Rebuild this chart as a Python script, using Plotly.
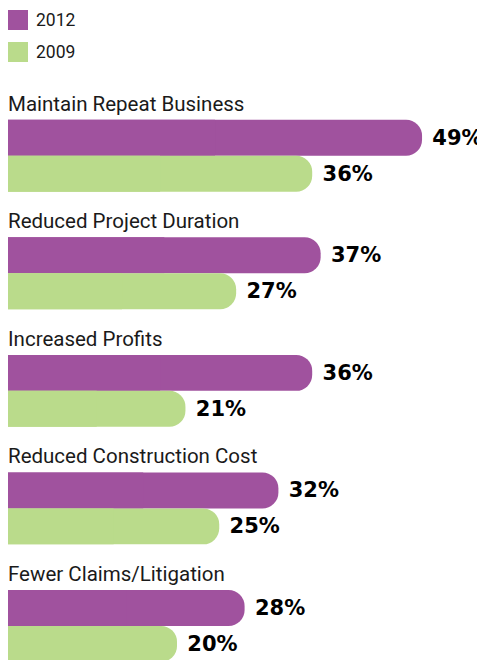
import plotly.graph_objects as go

categories = ['Maintain Repeat Business', 'Reduced Project Duration', 'Increased Profits',
              'Reduced Construction Cost', 'Fewer Claims/Litigation']
series_names = ['2012', '2009']
values_2012 = [49, 37, 36, 32, 28]
values_2009 = [36, 27, 21, 25, 20]
colors = ['#A0529E', '#BADB8B']

label_font = 'Roboto, Liberation Sans, sans-serif'
value_font = 'DejaVu Sans, Arial Black, sans-serif'

bar_w = 0.306
offsets = [-bar_w, 0]

fig = go.Figure()
for name, vals, color, off in zip(series_names, [values_2012, values_2009], colors, offsets):
    # full bar with rounded corners
    fig.add_trace(go.Bar(
        y=categories, x=vals, orientation='h', name=name,
        width=bar_w, offset=off,
        marker=dict(color=color, cornerradius=16, line=dict(width=0)),
        text=vals, texttemplate='\u00a0%{x}%', textposition='outside',
        textfont=dict(family=value_font, size=21, color='#000', weight='bold'),
        constraintext='none', cliponaxis=False, showlegend=False,
        hoverinfo='skip',
    ))
    # square off the left end
    fig.add_trace(go.Bar(
        y=categories, x=[v / 2 for v in vals], orientation='h',
        width=bar_w, offset=off,
        marker=dict(color=color, line=dict(width=0)),
        showlegend=False, hoverinfo='skip',
    ))

# category labels above each pair of bars
for cat in categories:
    fig.add_annotation(x=0, xref='paper', y=cat, yref='y', text=cat,
                       xanchor='left', yanchor='bottom', yshift=38, xshift=-2, showarrow=False,
                       font=dict(family=label_font, size=20.5, color='#1a1a1a'))

# legend swatches
for i, (name, color) in enumerate(zip(series_names, colors)):
    top = 87 - i * 32
    fig.add_shape(type='rect', xref='paper', yref='paper', xsizemode='pixel', ysizemode='pixel',
                  xanchor=0, yanchor=1, x0=0, x1=20, y0=top - 20, y1=top,
                  fillcolor=color, line=dict(width=0))
    fig.add_annotation(x=0, xref='paper', y=1, yref='paper', text=name,
                       xanchor='left', yanchor='middle', xshift=26, yshift=top - 10,
                       showarrow=False, font=dict(family=label_font, size=17.5, color='#1a1a1a'))

fig.update_layout(
    width=477, height=652,
    margin=dict(l=0, r=0, t=89, b=0),
    barmode='overlay',
    plot_bgcolor='white', paper_bgcolor='white',
    xaxis=dict(visible=False, range=[0, 56.45]),
    yaxis=dict(visible=False, range=[4.29, -0.5]),
    showlegend=False,
)

fig.write_html('out.html')
